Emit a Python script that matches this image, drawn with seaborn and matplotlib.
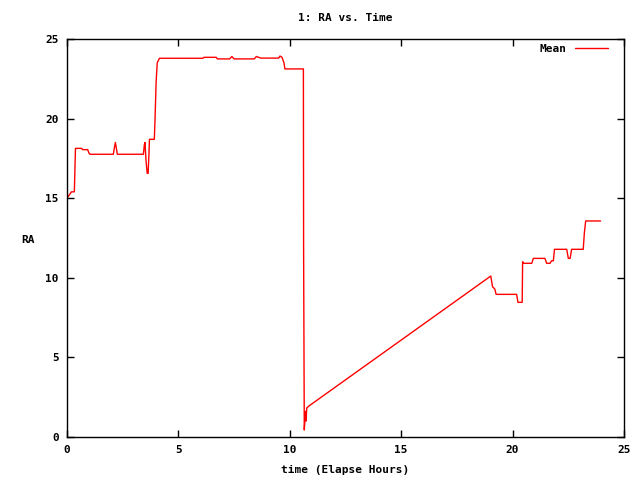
import pandas as pd
import numpy as np
import matplotlib
matplotlib.use('Agg')
import matplotlib.pyplot as plt
import seaborn as sns

# values
hours = [0.0, 0.1, 0.2, 0.33, 0.38, 0.66, 0.7, 0.93, 0.98, 1.03,
         2.08, 2.13, 2.17, 2.22, 2.26, 3.43, 3.47, 3.5, 3.55, 3.6,
         3.64, 3.68, 3.7, 3.92, 3.95, 4.0, 4.05, 4.1, 4.15, 6.1,
         6.15, 6.7, 6.75, 7.3, 7.4, 7.5, 8.4, 8.5, 8.7, 9.5,
         9.56, 9.65, 9.74, 9.78, 10.61, 10.62, 10.65, 10.7, 10.73, 10.76,
         10.86, 19.02, 19.1, 19.2, 19.26, 20.18, 20.24, 20.43, 20.45, 20.5,
         20.86, 20.93, 21.45, 21.53, 21.68, 21.75, 21.83, 21.88, 22.43, 22.5,
         22.58, 22.65, 23.17, 23.22, 23.28, 23.95]
ra = [15.0, 15.2, 15.4, 15.4, 18.13, 18.13, 18.05, 18.05, 17.85, 17.76,
      17.76, 18.2, 18.5, 18.1, 17.76, 17.76, 18.34, 18.5, 17.3, 16.56,
      16.56, 17.8, 18.7, 18.7, 19.9, 22.3, 23.5, 23.65, 23.79, 23.79,
      23.85, 23.85, 23.75, 23.75, 23.9, 23.75, 23.75, 23.9, 23.8, 23.8,
      23.93, 23.85, 23.5, 23.12, 23.12, 11.75, 0.44, 1.6, 1.0, 1.82,
      1.95, 10.11, 9.44, 9.3, 8.96, 8.96, 8.46, 8.46, 11.01, 10.91,
      10.91, 11.22, 11.22, 10.91, 10.91, 11.07, 11.07, 11.79, 11.79, 11.22,
      11.22, 11.79, 11.79, 12.8, 13.57, 13.57]

df = pd.DataFrame({'time': hours, 'RA': ra})

sns.set_style('ticks')
plt.rcParams['font.family'] = ['DejaVu Sans Mono']
plt.rcParams['font.weight'] = 'bold'
plt.rcParams['font.size'] = 8
plt.rcParams['text.color'] = 'black'

fig = plt.figure(figsize=(6.4, 4.8), dpi=100)
ax = fig.add_axes([67/640, 1-437/480, (624-67)/640, (437-39)/480])

sns.lineplot(data=df, x='time', y='RA', sort=False, estimator=None,
             color='red', lw=1, label='Mean', ax=ax)

ax.set_xlim(0, 25)
ax.set_ylim(0, 25)
ax.set_xticks(range(0, 26, 5))
ax.set_yticks(range(0, 26, 5))
ax.tick_params(direction='in', top=True, right=True, length=5, width=1,
               colors='black', labelsize=8, pad=6)
for s in ax.spines.values():
    s.set_color('black')
    s.set_linewidth(1)

ax.set_xlabel('')
ax.set_ylabel('')
fig.text(345/640, 1-470/480, 'time (Elapse Hours)', ha='center', va='center',
         fontsize=8, fontweight='bold', color='black')
fig.text(28/640, 1-240/480, 'RA', ha='center', va='center',
         fontsize=8, fontweight='bold', color='black')
fig.text(345/640, 1-18/480, '1: RA vs. Time', ha='center', va='center',
         fontsize=8, fontweight='bold', color='black')

ax.legend(loc='upper right', bbox_to_anchor=(1 - 8/557, 1 + 3/398),
          frameon=False, markerfirst=False,
          handlelength=3.0, borderaxespad=0.3, fontsize=8)

fig.savefig('out.png', dpi=100)
